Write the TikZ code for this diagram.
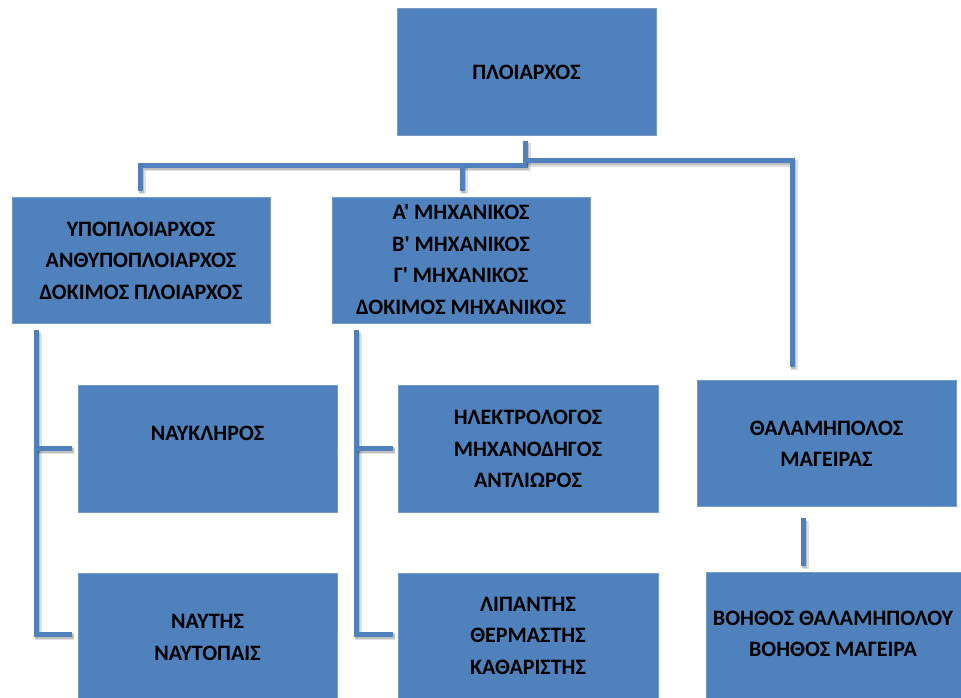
\documentclass[tikz,border=0pt]{standalone}
\usepackage{fontspec}
\newfontfamily\lblfont{Carlito}
\usetikzlibrary{calc}
\definecolor{boxblue}{HTML}{4F81BD}
\definecolor{linkblue}{HTML}{4F81BD}
\tikzset{
  box/.style={draw=boxblue!80!white, line width=0.6pt, fill=boxblue, inner sep=0pt, outer sep=0pt},
  lbl/.style={align=center, text=black, font=\lblfont\fontsize{22}{31.5}\selectfont\bfseries, inner sep=0pt},
  link/.style={draw=linkblue, line width=5pt, line join=miter, line cap=butt,
    preaction={draw=black, opacity=0.12, line width=7pt, transform canvas={shift={(2pt,-2.5pt)}}},
    preaction={draw=black, opacity=0.15, line width=5pt, transform canvas={shift={(1.5pt,-2pt)}}}}
}
\begin{document}
\begin{tikzpicture}[x=1pt, y=-1pt]
\useasboundingbox (0,0) rectangle (961,698);

% boxes: width x height placed by centre
\node[box, minimum width=259pt, minimum height=127pt] (top)  at (526.5,71.5)  {};
\node[box, minimum width=258pt, minimum height=126pt] (deck) at (141,260)     {};
\node[box, minimum width=258pt, minimum height=126pt] (eng)  at (461,260)     {};
\node[box, minimum width=259pt, minimum height=127pt] (bosn) at (207.5,448.5) {};
\node[box, minimum width=259pt, minimum height=130pt] (sea)  at (207.5,638)   {};
\node[box, minimum width=260pt, minimum height=127pt] (elec) at (528,448.5)   {};
\node[box, minimum width=260pt, minimum height=130pt] (oil)  at (528,638)     {};
\node[box, minimum width=259pt, minimum height=126pt] (stew) at (826.5,443)   {};
\node[box, minimum width=260pt, minimum height=130pt] (help) at (836,637)     {};

% texts
\node[lbl] at (526.5,72)  {ΠΛΟΙΑΡΧΟΣ};
\node[lbl] at (141,260.5) {ΥΠΟΠΛΟΙΑΡΧΟΣ\\ΑΝΘΥΠΟΠΛΟΙΑΡΧΟΣ\\ΔΟΚΙΜΟΣ ΠΛΟΙΑΡΧΟΣ};
\node[lbl] at (461,259.5) {Α' ΜΗΧΑΝΙΚΟΣ\\Β' ΜΗΧΑΝΙΚΟΣ\\Γ' ΜΗΧΑΝΙΚΟΣ\\ΔΟΚΙΜΟΣ ΜΗΧΑΝΙΚΟΣ};
\node[lbl] at (207.5,433) {ΝΑΥΚΛΗΡΟΣ};
\node[lbl] at (207.5,637.5) {ΝΑΥΤΗΣ\\ΝΑΥΤΟΠΑΙΣ};
\node[lbl] at (528,449)   {ΗΛΕΚΤΡΟΛΟΓΟΣ\\ΜΗΧΑΝΟΔΗΓΟΣ\\ΑΝΤΛΙΩΡΟΣ};
\node[lbl] at (528,635.5) {ΛΙΠΑΝΤΗΣ\\ΘΕΡΜΑΣΤΗΣ\\ΚΑΘΑΡΙΣΤΗΣ};
\node[lbl] at (826.5,444) {ΘΑΛΑΜΗΠΟΛΟΣ\\ΜΑΓΕΙΡΑΣ};
\node[lbl] at (833,634)   {ΒΟΗΘΟΣ ΘΑΛΑΜΗΠΟΛΟΥ\\ΒΟΗΘΟΣ ΜΑΓΕΙΡΑ};

% connector end points
\coordinate (topOut)  at (525,141);
\coordinate (hubL)    at (525,165);
\coordinate (deckIn)  at (140,191);
\coordinate (engIn)   at (462,191);
\coordinate (engJn)   at (462,165);
\coordinate (hubR)    at (525,160.5);
\coordinate (stewIn)  at (792,367);
\coordinate (deckOut) at (36,330);
\coordinate (bosnIn)  at (72,448);
\coordinate (seaIn)   at (72,634);
\coordinate (engOut)  at (356,330);
\coordinate (elecIn)  at (393,448);
\coordinate (oilIn)   at (393,634);
\coordinate (stewOut) at (803,518);
\coordinate (helpIn)  at (803,566);

% connectors
\draw[link] (topOut) -- (hubL) -| (deckIn);
\draw[link] (engJn) -- (engIn);
\draw[link] (hubR) -| (stewIn);
\draw[link] (deckOut) |- (seaIn);
\draw[link] (deckOut |- bosnIn) -- (bosnIn);
\draw[link] (engOut) |- (oilIn);
\draw[link] (engOut |- elecIn) -- (elecIn);
\draw[link] (stewOut) -- (helpIn);
\end{tikzpicture}
\end{document}
